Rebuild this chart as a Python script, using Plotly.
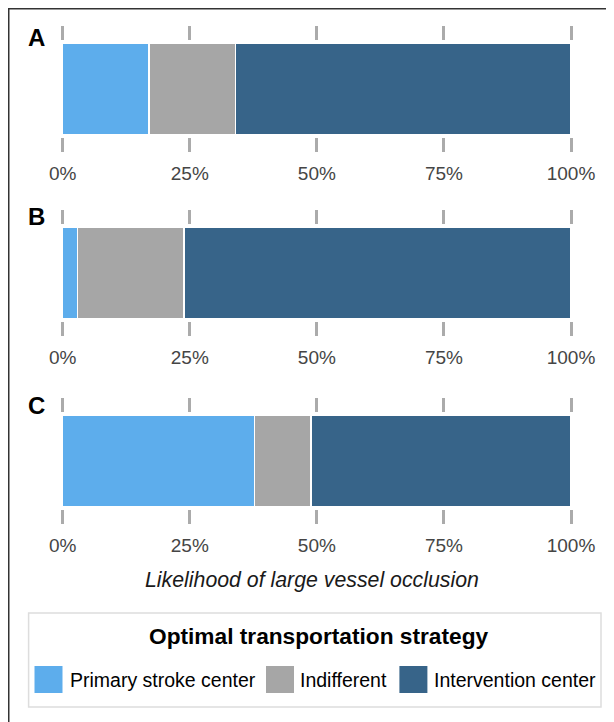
import plotly.graph_objects as go

# ---------------- data ----------------
panels = ["A", "B", "C"]
primary_stroke = [17.0, 2.9, 37.7]
indifferent = [17.0, 21.0, 11.1]
intervention = [66.0, 76.1, 51.2]
series_names = ["Primary stroke center", "Indifferent", "Intervention center"]
series_colors = ["#5DADEC", "#A6A6A6", "#376489"]
tick_vals = [0, 25, 50, 75, 100]
tick_text = ["0%", "25%", "50%", "75%", "100%"]
axis_title = "Likelihood of large vessel occlusion"
legend_title = "Optimal transportation strategy"

series_values = [primary_stroke, indifferent, intervention]

# page body has an 8px margin; figure sized to fit the window exactly
OFF = 8
W, H = 614 - OFF, 722 - OFF
FONT = "Liberation Sans, Arial, sans-serif"


def px(x):
    """screen x (window pixels) -> paper fraction"""
    return (x - OFF) / W


def py(y):
    """screen y (window pixels) -> paper fraction"""
    return 1 - (y - OFF) / H


# panel plot-area pixel bounds (top, bottom) in window pixels
panel_px = [(41, 137), (225, 321), (413, 509)]
x_left, x_right = 62.7, 571.0

fig = go.Figure()

for i, name in enumerate(panels):
    ax = "" if i == 0 else str(i + 1)
    for s, sname in enumerate(series_names):
        fig.add_trace(go.Bar(
            x=[series_values[s][i]], y=[0], orientation="h",
            name=sname, width=0.95,
            marker=dict(color=series_colors[s], line=dict(color="white", width=1.5)),
            xaxis="x" + ax, yaxis="y" + ax, showlegend=False,
        ))
    top, bot = panel_px[i]
    fig.layout["xaxis" + ax] = dict(
        domain=[px(x_left), px(x_right)], range=[0, 100], anchor="y" + ax,
        tickvals=tick_vals, ticktext=tick_text, ticks="outside", mirror="ticks",
        ticklen=14, tickwidth=2.5, tickcolor="#ABABAB",
        showgrid=False, zeroline=False, showline=False,
        tickfont=dict(family=FONT, size=19, color="#454545"),
        ticklabelstandoff=5, automargin=False, fixedrange=True,
    )
    fig.layout["yaxis" + ax] = dict(
        domain=[py(bot), py(top)], range=[-0.5, 0.5], anchor="x" + ax,
        visible=False, fixedrange=True,
    )

annotations = []
letter_y = [38, 216.5, 405]
for i, name in enumerate(panels):
    annotations.append(dict(
        text="<b>%s</b>" % name, x=px(36), y=py(letter_y[i]), xref="paper", yref="paper",
        xanchor="center", yanchor="middle", showarrow=False,
        font=dict(family=FONT, size=24, color="#000000"),
    ))

annotations.append(dict(
    text="<i>%s</i>" % axis_title, x=px(312), y=py(580), xref="paper", yref="paper",
    xanchor="center", yanchor="middle", showarrow=False,
    font=dict(family=FONT, size=21.3, color="#1A1A1A"),
))

# custom legend
annotations.append(dict(
    text="<b>%s</b>" % legend_title, x=px(318), y=py(636), xref="paper", yref="paper",
    xanchor="center", yanchor="middle", showarrow=False,
    font=dict(family=FONT, size=22.7, color="#000000"),
))

shapes = []
shapes.append(dict(type="rect", xref="paper", yref="paper",
                   x0=px(28.6), x1=px(601), y0=py(707), y1=py(613),
                   line=dict(color="#DDDDDD", width=1.5), fillcolor="rgba(0,0,0,0)"))
sw_x = [34.5, 266.0, 399.4]
txt_x = [68.0, 298.0, 431.5]
for s, sname in enumerate(series_names):
    shapes.append(dict(type="rect", xref="paper", yref="paper",
                       x0=px(sw_x[s]), x1=px(sw_x[s] + 28), y0=py(693), y1=py(666),
                       line=dict(width=0), fillcolor=series_colors[s]))
    annotations.append(dict(
        text=sname, x=px(txt_x[s]), y=py(680), xref="paper", yref="paper",
        xanchor="left", yanchor="middle", showarrow=False,
        font=dict(family=FONT, size=19.5, color="#000000"),
    ))

# frame lines (top and left edge)
shapes.append(dict(type="line", xref="paper", yref="paper",
                   x0=0, x1=1.0, y0=1, y1=1,
                   line=dict(color="#333333", width=3)))
shapes.append(dict(type="line", xref="paper", yref="paper",
                   x0=0, x1=0, y0=1, y1=0,
                   line=dict(color="#333333", width=3)))

fig.update_layout(
    width=W, height=H, barmode="stack",
    margin=dict(l=0, r=0, t=0, b=0),
    paper_bgcolor="white", plot_bgcolor="white",
    showlegend=False, annotations=annotations, shapes=shapes,
    font=dict(family=FONT),
)

fig.write_html("out.html")
